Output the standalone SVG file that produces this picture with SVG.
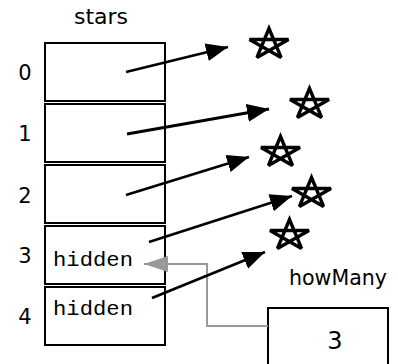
<svg xmlns="http://www.w3.org/2000/svg" xmlns:xlink="http://www.w3.org/1999/xlink" width="398" height="364" viewBox="0 0 398 364">
  <style>
    .cell { fill: #fff; stroke: #000; stroke-width: 2; }
    .label { font-family: "DejaVu Sans", "Liberation Sans", sans-serif; fill: #000; }
    .mono { font-family: "Liberation Mono", "Courier New", monospace; font-size: 21px; fill: #000; }
    .ptr { fill: none; stroke: #000; stroke-width: 2.8; }
    .ref { fill: none; stroke: #999; stroke-width: 2; }
    .star { fill: none; stroke: #000; stroke-width: 3.4; stroke-linejoin: miter; stroke-miterlimit: 3; }
  </style>
  <defs>
    <marker id="head" markerUnits="userSpaceOnUse" markerWidth="24" markerHeight="20" refX="22" refY="9" orient="auto">
      <path d="M0,0 L22,9 L0,18 Z" fill="#000"/>
    </marker>
    <marker id="grayHead" markerUnits="userSpaceOnUse" markerWidth="26" markerHeight="18" refX="24" refY="8" orient="auto">
      <path d="M0,0 L24,8 L0,16 Z" fill="#999"/>
    </marker>
    <!-- five-pointed star, drawn as a pentagram centred on 0,0 -->
    <path id="star" class="star" d="M0,-16 L12.05,12.94 L-19.5,-4.94 L19.5,-4.94 L-12.05,12.94 Z"/>
  </defs>

  <!-- array "stars" -->
  <g id="stars">
    <text class="label" x="101" y="24" font-size="22" text-anchor="middle">stars</text>
    <rect class="cell" x="45" y="43" width="120" height="58"/>
    <rect class="cell" x="45" y="104" width="120" height="58"/>
    <rect class="cell" x="45" y="165" width="120" height="58"/>
    <rect class="cell" x="45" y="226" width="120" height="58"/>
    <rect class="cell" x="45" y="287" width="120" height="58"/>
    <text class="label" font-size="21" text-anchor="middle" x="25" y="80">0</text>
    <text class="label" font-size="21" text-anchor="middle" x="25" y="141">1</text>
    <text class="label" font-size="21" text-anchor="middle" x="25" y="203">2</text>
    <text class="label" font-size="21" text-anchor="middle" x="25" y="263">3</text>
    <text class="label" font-size="21" text-anchor="middle" x="25" y="324">4</text>
    <text class="mono" x="53" y="266" textLength="80" lengthAdjust="spacingAndGlyphs">hidden</text>
    <text class="mono" x="53" y="315" textLength="80" lengthAdjust="spacingAndGlyphs">hidden</text>
  </g>

  <!-- star objects -->
  <g id="star0"><use xlink:href="#star" href="#star" x="269" y="44.5"/></g>
  <g id="star1"><use xlink:href="#star" href="#star" x="309.5" y="104.5"/></g>
  <g id="star2"><use xlink:href="#star" href="#star" x="280.5" y="152.5"/></g>
  <g id="star3"><use xlink:href="#star" href="#star" x="311.5" y="193.5"/></g>
  <g id="star4"><use xlink:href="#star" href="#star" x="289.5" y="235.5"/></g>

  <!-- variable howMany -->
  <g id="howMany">
    <text class="label" x="289" y="285" font-size="20.5" textLength="98" lengthAdjust="spacingAndGlyphs">howMany</text>
    <rect class="cell" x="268" y="308" width="120" height="60"/>
    <text class="label" x="335" y="349" font-size="24" text-anchor="middle">3</text>
  </g>

  <!-- connectors -->
  <g id="connectors">
    <polyline class="ref" points="268,326 207,326 207,264 144,264" marker-end="url(#grayHead)"/>
    <line class="ptr" x1="126" y1="72" x2="228" y2="47" marker-end="url(#head)"/>
    <line class="ptr" x1="127" y1="134" x2="269" y2="109" marker-end="url(#head)"/>
    <line class="ptr" x1="126" y1="195" x2="249" y2="157" marker-end="url(#head)"/>
    <line class="ptr" x1="149" y1="242" x2="292" y2="196" marker-end="url(#head)"/>
    <line class="ptr" x1="152" y1="298" x2="265" y2="252" marker-end="url(#head)"/>
  </g>
</svg>
